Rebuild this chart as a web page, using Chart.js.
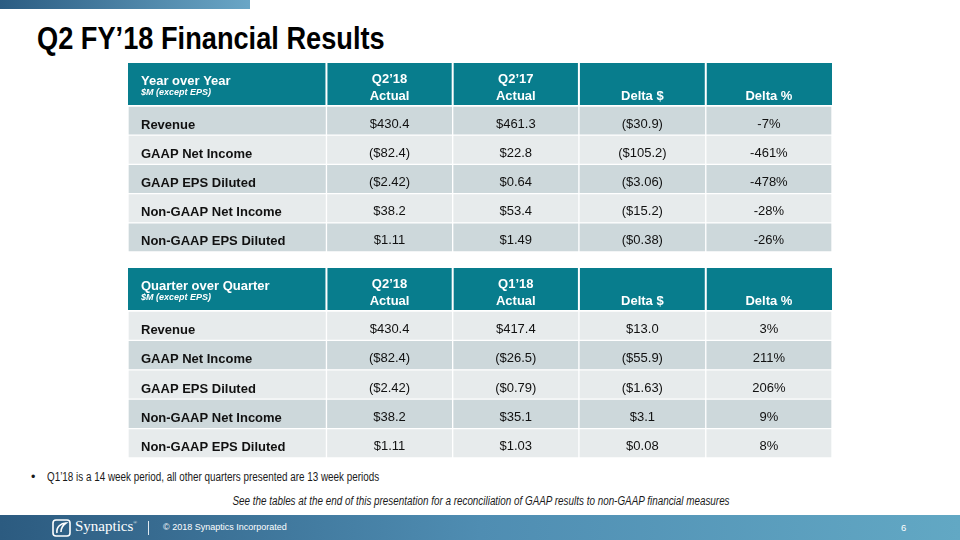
<!DOCTYPE html>
<html>
<head>
<meta charset="utf-8">
<script src="https://cdn.jsdelivr.net/npm/chart.js@4.4.0/dist/chart.umd.min.js"></script>
<style>
  body { margin: 0; background: #fff; }
  #slide { position: relative; width: 960px; height: 540px; overflow: hidden; font-family: 'Liberation Sans', Arial, sans-serif; }
  #topbar { position: absolute; left: 0; top: 0; width: 250px; height: 9px; background: linear-gradient(90deg, #2b5c82, #6aa6c6); }
  /* no narrow face installed, so squeeze the regular one */
  #title { position: absolute; left: 37px; top: 20px; font-weight: bold; font-size: 32px; color: #000; white-space: nowrap; transform: scaleX(0.85); transform-origin: left top; }
  .tbl { position: absolute; left: 128px; width: 704px; }
  #yoy { top: 63px; height: 189px; }
  #qoq { top: 268px; height: 190px; }
  #dot { position: absolute; left: 31px; top: 470px; font-size: 12.5px; color: #1a1a1a; }
  #bullet { position: absolute; left: 47px; top: 470px; font-size: 12.5px; color: #1a1a1a; white-space: nowrap; transform: scaleX(0.79); transform-origin: left top; }
  #note { position: absolute; left: 0; width: 962px; top: 494px; text-align: center; font-style: italic; font-size: 12.5px; color: #1a1a1a; white-space: nowrap; transform: scaleX(0.79); transform-origin: 481px 0; }
  #footer { position: absolute; left: 0; top: 515px; width: 960px; height: 25px; background: linear-gradient(90deg, #2c5b80, #4f8db2 50%, #62a8c4); color: #fff; }
  #logo { position: absolute; left: 52px; top: 4px; }
  #brand { position: absolute; left: 75px; top: 3px; font-family: 'Liberation Serif', serif; font-size: 15px; }
  #brand sup { font-size: 5px; vertical-align: 7px; }
  #divider { position: absolute; left: 148px; top: 6px; width: 1px; height: 14px; background: #dfe9f0; }
  #copy { position: absolute; left: 163px; top: 7px; font-size: 9px; }
  #page { position: absolute; left: 901px; top: 7px; font-size: 9.5px; }
</style>
</head>
<body>
<div id="slide">
  <div id="topbar"></div>
  <div id="title">Q2 FY’18 Financial Results</div>
  <div class="tbl" id="yoy"><canvas id="yoyChart"></canvas></div>
  <div class="tbl" id="qoq"><canvas id="qoqChart"></canvas></div>
  <div id="dot">•</div>
  <div id="bullet">Q1’18 is a 14 week period, all other quarters presented are 13 week periods</div>
  <div id="note">See the tables at the end of this presentation for a reconciliation of GAAP results to non-GAAP financial measures</div>
  <div id="footer">
    <svg id="logo" width="19" height="18" viewBox="0 0 19 18">
      <rect x="1" y="1" width="17" height="16" rx="3" fill="none" stroke="#fff" stroke-width="1.6"/>
      <path d="M5 14 C 4 8, 9 4, 14 4 C 11 6, 9 9, 9 13" fill="none" stroke="#fff" stroke-width="1.6"/>
    </svg>
    <div id="brand">Synaptics<sup>®</sup></div>
    <div id="divider"></div>
    <div id="copy">© 2018 Synaptics Incorporated</div>
    <div id="page">6</div>
  </div>
</div>
<script>
// row labels shared by both tables
const rowLabels = ['Revenue', 'GAAP Net Income', 'GAAP EPS Diluted', 'Non-GAAP Net Income', 'Non-GAAP EPS Diluted'];
const rowDecimals = [1, 1, 2, 1, 2];
const valueHeads = ['Actual', 'Actual', 'Delta $', 'Delta %'];

// year over year
const yoyTitle = 'Year over Year';
const yoyPeriods = ['Q2’18', 'Q2’17', '', ''];
const yoyQ218 = [430.4, -82.4, -2.42, 38.2, 1.11];
const yoyQ217 = [461.3, 22.8, 0.64, 53.4, 1.49];
const yoyDelta = [-30.9, -105.2, -3.06, -15.2, -0.38];
const yoyDeltaPct = [-7, -461, -478, -28, -26];

// quarter over quarter
const qoqTitle = 'Quarter over Quarter';
const qoqPeriods = ['Q2’18', 'Q1’18', '', ''];
const qoqQ218 = [430.4, -82.4, -2.42, 38.2, 1.11];
const qoqQ118 = [417.4, -26.5, -0.79, 35.1, 1.03];
const qoqDelta = [13.0, -55.9, -1.63, 3.1, 0.08];
const qoqDeltaPct = [3, 211, 206, 9, 8];

// column edges in x-scale units (first column is wider)
const colEdges = [0, 1.58, 2.585, 3.59, 4.6, 5.605];

const teal = '#087d8d';
const darkRow = '#cdd8db';
const lightRow = '#e7ebec';

function money(v, d) {
  const s = '$' + Math.abs(v).toFixed(d);
  return v < 0 ? '(' + s + ')' : s;
}

function buildTable(canvasId, title, periods, cols, pct, firstDark) {
  const shades = rowLabels.map((_, i) => ((i % 2 === 0) === firstDark ? darkRow : lightRow));
  const datasets = colEdges.slice(0, -1).map((start, c) => ({
    data: rowLabels.map(() => [start, colEdges[c + 1]]),
    backgroundColor: shades,
    borderColor: '#ffffff',
    borderWidth: 1,
    borderSkipped: false,
    grouped: false,
    categoryPercentage: 1,
    barPercentage: 1
  }));

  const cellText = {
    id: 'cellText',
    afterDatasetsDraw(chart) {
      const { ctx, chartArea, scales } = chart;
      const x = scales.x, y = scales.y;
      ctx.save();
      // header row
      const hTop = chartArea.top - 43, hBot = chartArea.top - 1;
      for (let c = 0; c < colEdges.length - 1; c++) {
        const l = x.getPixelForValue(colEdges[c]) + (c ? 1 : 0);
        const r = x.getPixelForValue(colEdges[c + 1]) - (c < colEdges.length - 2 ? 1 : 0);
        ctx.fillStyle = teal;
        ctx.fillRect(l, hTop, r - l, hBot - hTop);
      }
      ctx.fillStyle = '#ffffff';
      ctx.textBaseline = 'middle';
      ctx.textAlign = 'left';
      ctx.font = 'bold 13px "Liberation Sans", Arial, sans-serif';
      ctx.fillText(title, chartArea.left + 13, hTop + 18);
      ctx.font = 'italic bold 9px "Liberation Sans", Arial, sans-serif';
      ctx.fillText('$M (except EPS)', chartArea.left + 13, hTop + 30);
      ctx.textAlign = 'center';
      ctx.font = 'bold 13px "Liberation Sans", Arial, sans-serif';
      for (let c = 0; c < 4; c++) {
        const cx = x.getPixelForValue((colEdges[c + 1] + colEdges[c + 2]) / 2);
        if (periods[c]) ctx.fillText(periods[c], cx, hTop + 16);
        ctx.fillText(valueHeads[c], cx, hTop + 33);
      }
      // body rows
      ctx.fillStyle = '#111111';
      rowLabels.forEach((lab, i) => {
        const cy = y.getPixelForValue(i) + 4.5;
        ctx.textAlign = 'left';
        ctx.font = 'bold 13px "Liberation Sans", Arial, sans-serif';
        ctx.fillText(lab, chartArea.left + 13, cy);
        ctx.textAlign = 'center';
        ctx.font = '13px "Liberation Sans", Arial, sans-serif';
        const texts = cols.map(col => money(col[i], rowDecimals[i])).concat(pct[i] + '%');
        texts.forEach((t, c) => {
          const cx = x.getPixelForValue((colEdges[c + 1] + colEdges[c + 2]) / 2);
          ctx.fillText(t, cx, cy - 1);
        });
      });
      ctx.restore();
    }
  };

  new Chart(document.getElementById(canvasId), {
    type: 'bar',
    data: { labels: rowLabels, datasets },
    options: {
      indexAxis: 'y',
      responsive: true,
      maintainAspectRatio: false,
      animation: false,
      events: [],
      layout: { padding: { top: 43, left: 0, right: 0, bottom: 0 } },
      plugins: { legend: { display: false }, tooltip: { enabled: false } },
      scales: {
        x: { type: 'linear', min: 0, max: colEdges[colEdges.length - 1], display: false },
        y: { type: 'category', display: false, offset: true }
      }
    },
    plugins: [cellText]
  });
}

buildTable('yoyChart', yoyTitle, yoyPeriods, [yoyQ218, yoyQ217, yoyDelta], yoyDeltaPct, true);
buildTable('qoqChart', qoqTitle, qoqPeriods, [qoqQ218, qoqQ118, qoqDelta], qoqDeltaPct, false);
</script>
</body>
</html>
